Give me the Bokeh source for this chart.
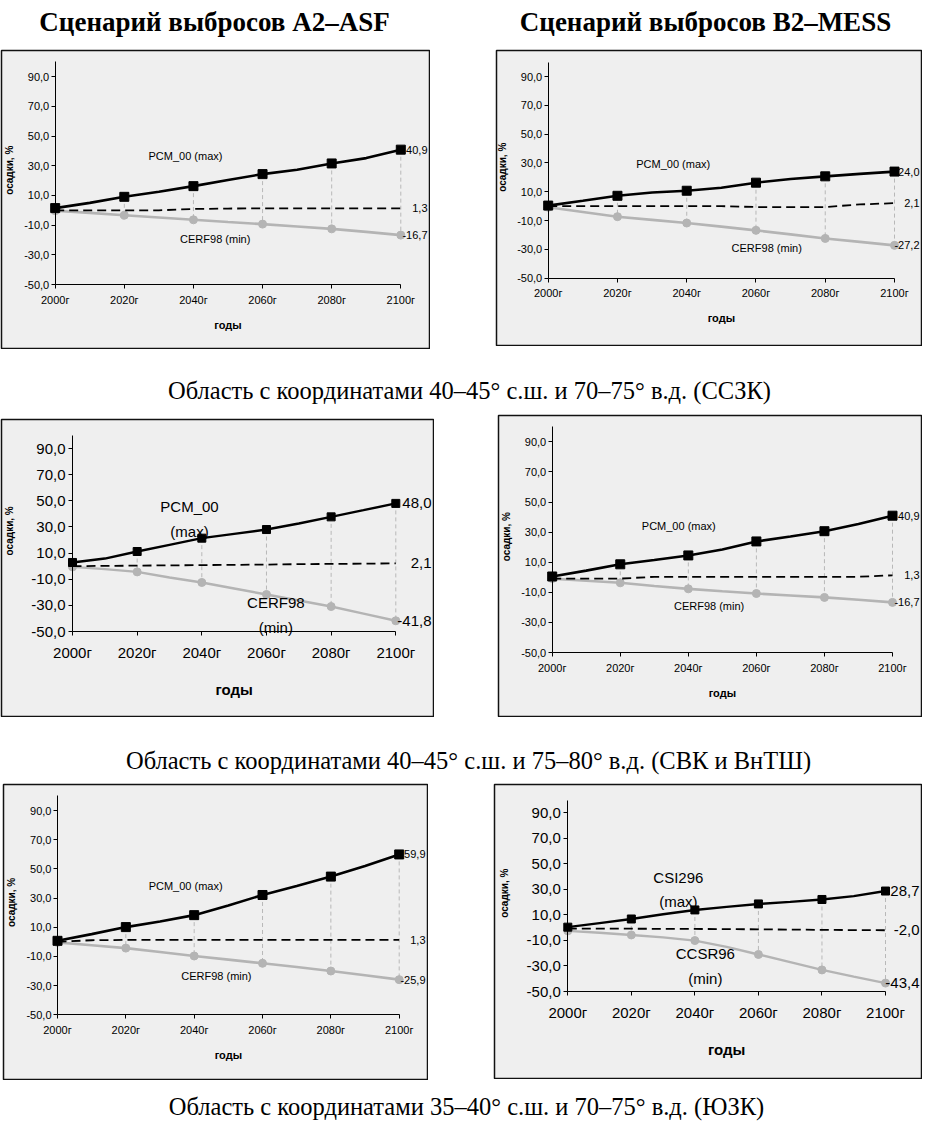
import math
from bokeh.plotting import figure
from bokeh.models import ColumnDataSource, Range1d, LinearAxis, FixedTicker, Spacer
from bokeh.layouts import column, row
from bokeh.embed import file_html
from bokeh.resources import INLINE
from bokeh.core.properties import value

# ---------------- data ----------------
YEARS = [2000, 2010, 2020, 2030, 2040, 2050, 2060, 2070, 2080, 2090, 2100]
MARK_YEARS = [2000, 2020, 2040, 2060, 2080, 2100]
X_TICK_LABELS = ["2000г", "2020г", "2040г", "2060г", "2080г", "2100г"]
Y_TICKS = [-50, -30, -10, 10, 30, 50, 70, 90]
Y_TICK_LABELS = ["-50,0", "-30,0", "-10,0", "10,0", "30,0", "50,0", "70,0", "90,0"]
X_TITLE = "годы"
Y_TITLE = "осадки, %"

SCENARIO_TITLES = ["Сценарий выбросов A2–ASF", "Сценарий выбросов B2–MESS"]
REGION_CAPTIONS = [
    "Область с координатами 40–45° с.ш. и 70–75° в.д. (ССЗК)",
    "Область с координатами 40–45° с.ш. и 75–80° в.д. (СВК и ВнТШ)",
    "Область с координатами 35–40° с.ш. и 70–75° в.д. (ЮЗК)",
]

# region 1, A2-ASF
P1_MAX = [1.5, 5.0, 9.1, 12.5, 16.3, 20.5, 24.4, 27.3, 31.6, 35.2, 40.9]
P1_MED = [0.0, 0.0, 0.0, 0.0, 0.9, 1.2, 1.3, 1.3, 1.3, 1.3, 1.3]
P1_MIN = [-0.3, -1.7, -3.3, -4.8, -6.4, -7.9, -9.3, -10.9, -12.5, -14.5, -16.7]
# region 1, B2-MESS
P2_MAX = [0.4, 3.7, 7.2, 9.5, 10.7, 12.8, 16.3, 18.9, 20.7, 22.4, 24.0]
P2_MED = [0.0, 0.0, 0.0, 0.0, 0.0, 0.0, -0.6, -0.6, -0.6, 1.2, 2.1]
P2_MIN = [-0.8, -4.0, -7.3, -9.5, -11.7, -14.2, -16.8, -19.6, -22.4, -24.8, -27.2]
# region 2, A2-ASF
P3_MAX = [2.8, 5.8, 11.2, 16.3, 21.4, 24.7, 28.0, 32.6, 37.7, 42.8, 48.0]
P3_MED = [0.0, 0.2, 0.4, 0.6, 0.8, 1.0, 1.2, 1.5, 1.7, 1.9, 2.1]
P3_MIN = [-0.6, -2.3, -4.4, -8.7, -12.5, -17.1, -21.7, -26.3, -30.9, -36.3, -41.8]
# region 2, B2-MESS
P4_MAX = [0.5, 4.4, 8.6, 11.5, 14.5, 18.5, 23.8, 27.1, 30.6, 35.4, 40.9]
P4_MED = [-0.9, -0.9, -0.9, 0.3, 0.3, 0.3, 0.3, 0.3, 0.3, 0.3, 1.3]
P4_MIN = [-0.9, -2.3, -3.7, -5.8, -7.7, -9.3, -10.8, -12.1, -13.4, -15.0, -16.7]
# region 3, A2-ASF
P5_MAX = [0.7, 5.3, 10.1, 13.9, 18.3, 24.9, 32.1, 38.3, 44.7, 51.9, 59.9]
P5_MED = [0.0, 1.1, 1.3, 1.3, 1.3, 1.3, 1.3, 1.3, 1.3, 1.3, 1.3]
P5_MIN = [-0.4, -2.3, -4.3, -7.0, -9.7, -12.2, -14.7, -17.3, -20.0, -22.9, -25.9]
# region 3, B2-MESS
P6_MAX = [0.4, 3.6, 6.8, 10.5, 13.9, 16.3, 18.6, 20.2, 22.1, 24.7, 28.7]
P6_MED = [-0.7, -0.7, -0.8, -0.9, -1.0, -1.1, -1.3, -1.5, -1.7, -1.9, -2.0]
P6_MIN = [-2.5, -4.0, -5.7, -7.6, -10.1, -15.0, -21.0, -27.0, -33.1, -38.3, -43.4]

# ---------------- styles ----------------
SANS = "Liberation Sans"
SERIF = "Liberation Serif"
BG = "#efefef"
GRAY = "#b4b4b4"
DROP = "#b8b8b8"

SMALL = dict(tick="11px", name="11px", end="11px", xt="11px", yt="10px", lh=1.2,
             ystand=2, xstand=5, sq=9, ci=8, lw=2.6, xt_dy=40, yt_dx=-46)
BIG = dict(tick="15px", name="15px", end="15px", xt="15px", yt="10px", lh=1.45,
           ystand=3, xstand=8, sq=8, ci=8, lw=2.4, xt_dy=58, yt_dx=-63)


def fmt(v):
    return ("%.1f" % v).replace(".", ",")


def make_panel(fw, fh, geom, hi, med, lo, names, name_xy, st):
    a, b, c, d = geom  # frame px of x=2000, x=2100, y=90, y=-50
    W, H = fw - 2, fh - 2
    kx = (b - a) / 100.0
    ky = (d - c) / 140.0
    x0 = 2000 - a / kx
    x1 = 2100 + (W - b) / kx
    y1 = 90 + c / ky
    y0 = -50 - (H - d) / ky
    p = figure(width=fw, height=fh, x_range=Range1d(x0, x1), y_range=Range1d(y0, y1),
               x_axis_type=None, y_axis_type=None, toolbar_location=None,
               output_backend="svg", min_border_left=1, min_border_right=1,
               min_border_top=1, min_border_bottom=1)
    p.background_fill_color = BG
    p.border_fill_color = "white"
    p.outline_line_color = "#111111"
    p.outline_line_width = 1.5

    yover = {}
    for t, l in zip(Y_TICKS, Y_TICK_LABELS):
        yover[t] = l
        yover[str(t)] = l
    xover = {}
    for t, l in zip(MARK_YEARS, X_TICK_LABELS):
        xover[t] = l
        xover[str(t)] = l

    yax = LinearAxis(fixed_location=2000, bounds=(-50, 100),
                     ticker=FixedTicker(ticks=Y_TICKS, minor_ticks=[]),
                     major_label_overrides=yover,
                     major_tick_in=0, major_tick_out=4, minor_tick_in=0, minor_tick_out=0,
                     major_label_standoff=st["ystand"],
                     major_label_text_font=SANS, major_label_text_font_size=st["tick"],
                     major_label_text_color="black", axis_line_color="black",
                     major_tick_line_color="black")
    p.add_layout(yax, "left")
    xax = LinearAxis(fixed_location=-50, bounds=(2000, 2100),
                     ticker=FixedTicker(ticks=MARK_YEARS, minor_ticks=[]),
                     major_label_overrides=xover,
                     major_tick_in=0, major_tick_out=4, minor_tick_in=0, minor_tick_out=0,
                     major_label_standoff=st["xstand"],
                     major_label_text_font=SANS, major_label_text_font_size=st["tick"],
                     major_label_text_color="black", axis_line_color="black",
                     major_tick_line_color="black")
    p.add_layout(xax, "below")

    src = ColumnDataSource(dict(x=YEARS, hi=hi, med=med, lo=lo))
    msrc = ColumnDataSource(dict(x=MARK_YEARS, hi=hi[::2], lo=lo[::2]))

    p.segment(x0="x", y0="hi", x1="x", y1="lo", source=msrc, line_color=DROP,
              line_width=1, line_dash="4 3")
    p.line("x", "lo", source=src, line_color=GRAY, line_width=st["lw"])
    p.scatter("x", "lo", source=msrc, marker="circle", size=st["ci"],
              fill_color=GRAY, line_color=GRAY)
    p.line("x", "med", source=src, line_color="black", line_width=1.8, line_dash="9 5")
    p.line("x", "hi", source=src, line_color="black", line_width=st["lw"])
    p.scatter("x", "hi", source=msrc, marker="square", size=st["sq"],
              fill_color="black", line_color="black")

    # model names
    p.text(x=[name_xy[0][0], name_xy[1][0]], y=[name_xy[0][1], name_xy[1][1]],
           text=names, text_align="center", text_baseline="middle",
           text_font=value(SANS), text_font_size=st["name"], text_color="black",
           text_line_height=st["lh"])

    # end values
    ends = ColumnDataSource(dict(x=[x1, x1, x1], y=[hi[-1], med[-1], lo[-1]],
                                 t=[fmt(hi[-1]), fmt(med[-1]), fmt(lo[-1])]))
    p.text("x", "y", "t", source=ends, x_offset=-2, text_align="right",
           text_baseline="middle", text_font=value(SANS), text_font_size=st["end"],
           text_color="black")

    # axis titles
    p.text(x=[2050], y=[-50 - st["xt_dy"] / ky], text=[X_TITLE], text_align="center",
           text_baseline="middle", text_font=value(SANS), text_font_style="bold",
           text_font_size=st["xt"], text_color="black")
    p.text(x=[2000 + st["yt_dx"] / kx], y=[27], text=[Y_TITLE], angle=math.pi / 2,
           text_align="center", text_baseline="middle", text_font=value(SANS),
           text_font_style="bold", text_font_size=st["yt"], text_color="black")
    return p


def strip(width, height, xs, ys, texts, size, style):
    p = figure(width=width, height=height, x_range=Range1d(0, width),
               y_range=Range1d(height, 0), x_axis_type=None, y_axis_type=None,
               toolbar_location=None, output_backend="svg", min_border_left=0,
               min_border_right=0, min_border_top=0, min_border_bottom=0)
    p.outline_line_color = None
    p.background_fill_color = "white"
    p.border_fill_color = "white"
    p.text(x=xs, y=ys, text=texts, text_align="center", text_baseline="middle",
           text_font=value(SERIF), text_font_size=size, text_font_style=style,
           text_color="black")
    return p


titles = strip(922, 49, [214, 705], [21, 21], SCENARIO_TITLES, "27px", "bold")

p1 = make_panel(430, 300, (53.7, 399.3, 26.3, 234.0), P1_MAX, P1_MED, P1_MIN,
                ["PCM_00 (max)", "CERF98 (min)"], [(2037.7, 36.3), (2046.3, -19.0)], SMALL)
p2 = make_panel(427, 297, (51.7, 398.0, 26.0, 227.7), P2_MAX, P2_MED, P2_MIN,
                ["PCM_00 (max)", "CERF98 (min)"], [(2036.1, 29.1), (2063.1, -29.2)], SMALL)
cap1 = strip(922, 65, [469], [41], [REGION_CAPTIONS[0]], "24.5px", "normal")

p3 = make_panel(434, 299, (71.0, 394.3, 29.0, 212.0), P3_MAX, P3_MED, P3_MIN,
                ["PCM_00\n(max)", "CERF98\n(min)"], [(2036.2, 36.0), (2062.9, -37.5)], BIG)
p4 = make_panel(425, 303, (53.7, 394.0, 26.3, 237.0), P4_MAX, P4_MED, P4_MIN,
                ["PCM_00 (max)", "CERF98 (min)"], [(2037.2, 34.2), (2046.1, -19.0)], SMALL)
cap2 = strip(922, 66, [468], [43], [REGION_CAPTIONS[1]], "24.5px", "normal")

p5 = make_panel(426, 297, (54.0, 395.7, 26.0, 230.3), P5_MAX, P5_MED, P5_MIN,
                ["PCM_00 (max)", "CERF98 (min)"], [(2037.5, 38.6), (2046.5, -23.4)], SMALL)
p6 = make_panel(429, 296, (73.3, 391.0, 28.3, 207.0), P6_MAX, P6_MED, P6_MIN,
                ["CSI296\n(max)", "CCSR96\n(min)"], [(2034.8, 30.0), (2043.3, -30.0)], BIG)
cap3 = strip(922, 44, [466], [26], [REGION_CAPTIONS[2]], "24.5px", "normal")

layout = column(
    titles,
    row(p1, Spacer(width=65, height=10), p2),
    cap1,
    row(column(Spacer(width=10, height=4), p3), Spacer(width=63, height=10), p4),
    cap2,
    row(Spacer(width=2, height=10), p5, Spacer(width=65, height=10), p6),
    cap3,
)

open("out.html", "w").write(file_html(layout, INLINE))
